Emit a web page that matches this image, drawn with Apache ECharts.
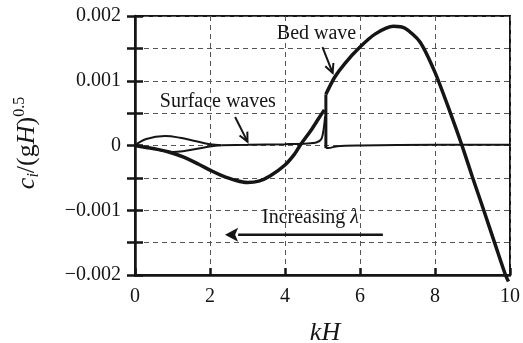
<!DOCTYPE html>
<html>
<head>
<meta charset="utf-8">
<script src="https://cdn.jsdelivr.net/npm/echarts@6/dist/echarts.min.js"></script>
<style>
  html, body { margin: 0; padding: 0; background: #fff; }
  #main { width: 523px; height: 343px; }
</style>
</head>
<body>
<div id="main"></div>
<script>
// axis ticks
const xTicks = [0, 2, 4, 6, 8, 10]
const yTicks = [-0.002, -0.0015, -0.001, -0.0005, 0, 0.0005, 0.001, 0.0015, 0.002]

// bed wave (thick) - lower branch up to the jump
const bedLowKH = [0, 0.3, 0.6, 0.9, 1.3, 1.7, 2.0, 2.3, 2.7, 3.0, 3.3, 3.6, 4.0, 4.27, 4.4, 4.7, 4.9, 5.05]
const bedLowC = [0, -0.00003, -0.00006, -0.0001, -0.00018, -0.00029, -0.00038, -0.00046, -0.00054, -0.00057, -0.00055, -0.00047, -0.0003, -0.00012, 0, 0.00024, 0.00042, 0.00055]
// vertical jump near kH = 5
const bedJumpKH = [5.09, 5.09]
const bedJumpC = [-0.00004, 0.00079]
// bed wave upper branch
const bedHighKH = [5.09, 5.32, 5.6, 6.0, 6.4, 6.89, 7.2, 7.6, 8.0, 8.4, 8.72, 9.0, 9.3, 9.6, 9.88, 9.96]
const bedHighC = [0.00079, 0.00105, 0.00127, 0.00152, 0.00172, 0.00184, 0.00181, 0.0016, 0.00113, 0.00052, 0, -0.00049, -0.001, -0.00152, -0.002, -0.0021]

// surface waves (thin)
const surfUpKH = [0, 0.3, 0.8, 1.2, 1.6, 2.0, 2.3]
const surfUpC = [0, 0.0001, 0.000145, 0.00012, 0.00007, 0.00002, 0.000005]
const surfDownKH = [0, 0.5, 1.0, 2.05, 2.3]
const surfDownC = [0, -0.00005, -0.0001, -0.00001, 0.000005]
const surfMidKH = [2.3, 3, 4, 4.6, 4.85, 4.97, 5.03, 5.07]
const surfMidC = [0.000005, 0.00001, 0.00002, 0.00003, 0.00005, 0.0001, 0.00025, 0.00045]
const surfRightKH = [5.09, 5.15, 5.4, 6, 8, 10.08]
const surfRightC = [-0.00004, -0.00004, -0.00001, 0, 0.00001, 0.00001]

const FONT = 'Liberation Serif'
const INK = '#151515'

const zip = (xs, ys) => xs.map((x, i) => [x, ys[i]])

function lineSeries(name, xs, ys, width, smooth) {
  return {
    name: name,
    type: 'line',
    data: zip(xs, ys),
    showSymbol: false,
    smooth: smooth,
    clip: false,
    lineStyle: { color: INK, width: width },
    z: width > 2.5 ? 4 : 3
  }
}

function fmtY(v) {
  const k = Math.round(v * 10000)
  if (k % 10 !== 0) return ''
  if (k === 0) return '0'
  const s = Math.abs(v).toFixed(3)
  return v < 0 ? '\u2212' + s : s
}

const chart = echarts.init(document.getElementById('main'))

const option = {
  animation: false,
  grid: {
    left: 135,
    right: 13,
    top: 16,
    bottom: 68,
    show: true,
    borderColor: INK,
    borderWidth: 2
  },
  xAxis: {
    type: 'value',
    min: xTicks[0],
    max: xTicks[xTicks.length - 1],
    interval: 2,
    axisLine: { show: true, onZero: false, lineStyle: { color: INK, width: 2.5 } },
    axisTick: { show: true, inside: true, length: 7, lineStyle: { color: INK, width: 2.5 } },
    axisLabel: { color: INK, fontFamily: FONT, fontSize: 20, margin: 12 },
    splitLine: { show: true, lineStyle: { color: '#555', width: 1, type: [5, 4] } }
  },
  yAxis: [
    {
      type: 'value',
      min: yTicks[0],
      max: yTicks[yTicks.length - 1],
      interval: 0.0005,
      axisLine: { show: true, onZero: false, lineStyle: { color: INK, width: 2.5 } },
      axisTick: { show: true, inside: false, length: 8, lineStyle: { color: INK, width: 2.5 } },
      axisLabel: { color: INK, fontFamily: FONT, fontSize: 20, margin: 14, formatter: fmtY },
      splitLine: { show: true, lineStyle: { color: '#555', width: 1, type: [5, 4] } }
    },
    {
      type: 'value',
      position: 'left',
      min: yTicks[0],
      max: yTicks[yTicks.length - 1],
      interval: 0.0005,
      axisLine: { show: false, onZero: false },
      axisTick: { show: true, inside: true, length: 8, lineStyle: { color: INK, width: 2.5 } },
      axisLabel: { show: false },
      splitLine: { show: false }
    }
  ],
  series: [
    lineSeries('surface up', surfUpKH, surfUpC, 2, 0.4),
    lineSeries('surface down', surfDownKH, surfDownC, 2, 0.3),
    lineSeries('surface mid', surfMidKH, surfMidC, 2, 0.3),
    lineSeries('surface right', surfRightKH, surfRightC, 2, 0.3),
    lineSeries('bed low', bedLowKH, bedLowC, 3.5, 0.35),
    lineSeries('bed jump', bedJumpKH, bedJumpC, 3, false),
    lineSeries('bed high', bedHighKH, bedHighC, 3.5, 0.25)
  ]
}

chart.setOption(option)

// annotations, placed in data coordinates
const toPx = (p) => chart.convertToPixel({ gridIndex: 0 }, p)

function vHead(from, tip, len, ang) {
  const dx = from[0] - tip[0]
  const dy = from[1] - tip[1]
  const a = Math.atan2(dy, dx)
  return [
    [tip[0] + len * Math.cos(a + ang), tip[1] + len * Math.sin(a + ang)],
    tip,
    [tip[0] + len * Math.cos(a - ang), tip[1] + len * Math.sin(a - ang)]
  ]
}

function label(text, pos, size, rich) {
  const p = toPx(pos)
  return {
    type: 'text',
    x: p[0],
    y: p[1],
    z: 10,
    style: {
      text: text,
      fill: INK,
      font: size + 'px "' + FONT + '"',
      align: 'center',
      verticalAlign: 'middle',
      rich: rich
    }
  }
}

const bedFrom = toPx([5.0, 0.00152])
const bedTip = toPx([5.27, 0.00112])
const surfFrom = toPx([2.67, 0.00044])
const surfTip = toPx([3.0, 0.00006])
const incTail = toPx([6.61, -0.00138])
const incBase = toPx([2.75, -0.00138])
const incTip = toPx([2.4, -0.00138])

const lam = { l: { fontFamily: FONT, fontSize: 20, fontStyle: 'italic', fill: INK } }

const graphics = [
  label('Bed wave', [4.84, 0.00173], 20),
  label('Surface waves', [2.21, 0.00067], 20),
  label('Increasing {l|\u03bb}', [4.68, -0.00112], 20, lam),
  { type: 'line', z: 10, shape: { x1: bedFrom[0], y1: bedFrom[1], x2: bedTip[0], y2: bedTip[1] }, style: { stroke: INK, lineWidth: 2 } },
  { type: 'polyline', z: 10, shape: { points: vHead(bedFrom, bedTip, 10, 0.45) }, style: { stroke: INK, lineWidth: 2, fill: null } },
  { type: 'line', z: 10, shape: { x1: surfFrom[0], y1: surfFrom[1], x2: surfTip[0], y2: surfTip[1] }, style: { stroke: INK, lineWidth: 2 } },
  { type: 'polyline', z: 10, shape: { points: vHead(surfFrom, surfTip, 10, 0.45) }, style: { stroke: INK, lineWidth: 2, fill: null } },
  { type: 'line', z: 10, shape: { x1: incTail[0], y1: incTail[1], x2: incBase[0], y2: incBase[1] }, style: { stroke: INK, lineWidth: 2.5 } },
  {
    type: 'polygon', z: 10,
    shape: { points: [incTip, [incBase[0], incBase[1] - 7], [incBase[0] - 3, incBase[1]], [incBase[0], incBase[1] + 7]] },
    style: { fill: INK }
  },
  // x axis title
  {
    type: 'text', z: 10, x: 325, y: 333,
    style: { text: 'kH', fill: INK, font: 'italic 26px "' + FONT + '"', align: 'center', verticalAlign: 'middle' }
  },
  // y axis title, rotated
  {
    type: 'text', z: 10, x: 27, y: 143, rotation: Math.PI / 2,
    style: {
      text: '{it|c}{sub|i}{n|/(g}{it|H}{n|)}{sup|0.5}',
      align: 'center',
      verticalAlign: 'middle',
      rich: {
        it: { fontFamily: FONT, fontStyle: 'italic', fontSize: 26, lineHeight: 30, verticalAlign: 'middle', fill: INK },
        n: { fontFamily: FONT, fontSize: 26, lineHeight: 30, verticalAlign: 'middle', fill: INK },
        sub: { fontFamily: FONT, fontStyle: 'italic', fontSize: 16, lineHeight: 16, verticalAlign: 'bottom', fill: INK },
        sup: { fontFamily: FONT, fontSize: 16, lineHeight: 16, verticalAlign: 'top', fill: INK }
      }
    }
  }
]

chart.setOption({ graphic: graphics })
</script>
</body>
</html>
